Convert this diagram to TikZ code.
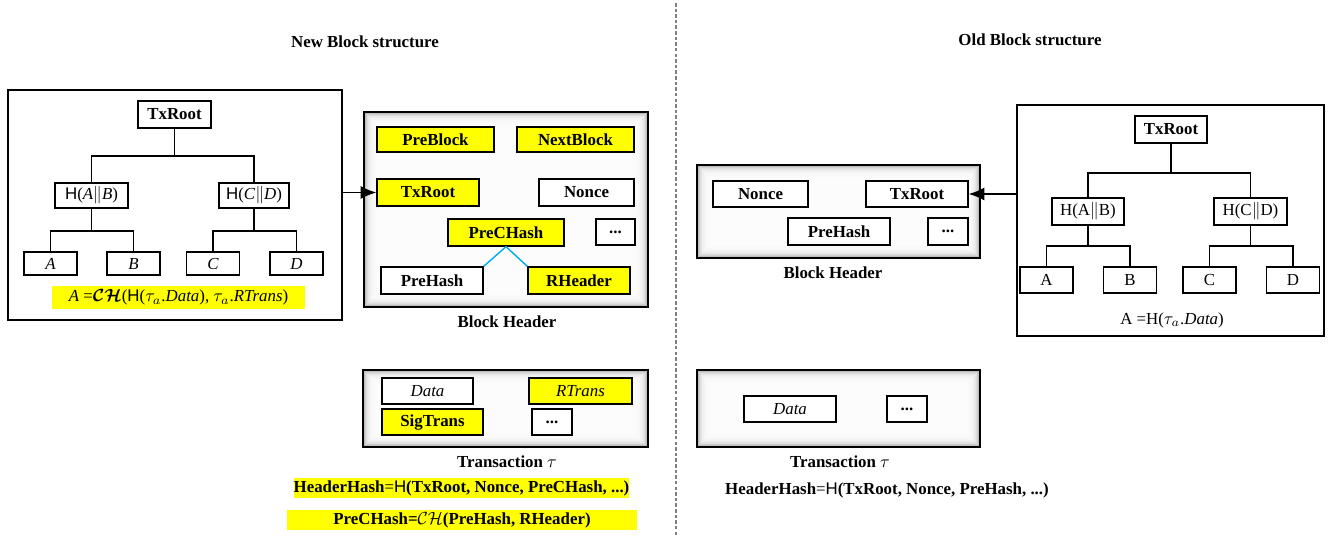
\documentclass[tikz,border=0pt]{standalone}
\usepackage{fontspec}
\setmainfont{Liberation Serif}
\setsansfont{Liberation Sans}
\usetikzlibrary{arrows.meta}

\definecolor{hlyellow}{RGB}{255,255,0}
\definecolor{linkblue}{RGB}{0,170,235}
\newcommand{\figfont}{\fontsize{9.6}{11.5}\selectfont}

\tikzset{
  sz/.style 2 args={minimum width=#1*0.02cm, minimum height=#2*0.02cm},
  fld/.style={draw, line width=0.75pt, fill=white, inner sep=0pt, font=\figfont\bfseries},
  leaf/.style={draw, line width=0.75pt, fill=white, inner sep=0pt, font=\figfont},
  hl/.style={fill=hlyellow},
  branch/.style={line width=1.1pt},
  treeframe/.style={draw, line width=0.9pt, fill=white, inner sep=0pt},
  shadowbox/.style={draw, line width=1.2pt, fill=gray!70, inner sep=0pt,
    path picture={
      \foreach \k in {1,...,12}
        \fill[white, opacity=0.28]
          ([xshift=\k*0.6pt, yshift=-\k*0.6pt]path picture bounding box.north west)
          rectangle
          ([xshift=-\k*0.6pt, yshift=\k*0.6pt]path picture bounding box.south east);
    }},
  caption/.style={inner sep=0pt, font=\figfont\bfseries},
  formula/.style={inner sep=0pt, font=\figfont},
  link/.style={line width=1pt, -{Latex[length=9pt, width=7.5pt]}},
  divider/.style={gray, line width=0.6pt, dash pattern=on 2pt off 1.2pt}
}

\begin{document}
\begin{tikzpicture}[x=0.02cm, y=-0.02cm]
    \useasboundingbox (0,0) rectangle (1338,535);

    % Titles
    \node[caption] (newtitle) at (365,42) {New Block structure};
    \node[caption] (oldtitle) at (1030,40) {Old Block structure};

    % Divider
    \draw[divider] (676,3) -- (676,535);

    % New block: Merkle tree
    \node[treeframe, sz={334}{230}] (ltree) at (175,205) {};
    \node[fld, sz={73}{27}] (ltroot) at (174.5,114.5) {TxRoot};
    \node[leaf, sz={73}{25}] (lab) at (91.5,195.5) {\textsf{H}(\textit{A}$\|$\textit{B})};
    \node[leaf, sz={70}{25}] (lcd) at (254,195.5) {\textsf{H}(\textit{C}$\|$\textit{D})};
    \node[leaf, sz={53}{23}] (la) at (50.5,263.5) {\textit{A}};
    \node[leaf, sz={53}{23}] (lb) at (133.5,263.5) {\textit{B}};
    \node[leaf, sz={53}{23}] (lc) at (213,263.5) {\textit{C}};
    \node[leaf, sz={53}{23}] (ld) at (296.5,263.5) {\textit{D}};
    \draw[branch] (ltroot.south) -- ++(0,27) coordinate (lsplit) -| (lab.north);
    \draw[branch] (lsplit) -| (lcd.north);
    \draw[branch] (lab.south) -- ++(0,22) coordinate (labsplit) -| (la.north);
    \draw[branch] (labsplit) -| (lb.north);
    \draw[branch] (lcd.south) -- ++(0,22) coordinate (lcdsplit) -| (lc.north);
    \draw[branch] (lcdsplit) -| (ld.north);
    \node[formula, hl, sz={253}{23}] (lleafdef) at (178.5,297.5)
        {\textit{A} ={\boldmath$\mathcal{C}\mathcal{H}$}(\textsf{H}($\tau_{a}$.\textit{Data}), $\tau_{a}$.\textit{RTrans})};

    % New block: header
    \node[shadowbox, sz={284}{195}] (lhead) at (506,209.5) {};
    \node[fld, hl, sz={117}{25}] (preblock) at (435.5,139.5) {PreBlock};
    \node[fld, hl, sz={117}{25}] (nextblock) at (575.5,139.5) {NextBlock};
    \node[fld, hl, sz={102}{27}] (lhtxroot) at (428,192.5) {TxRoot};
    \node[fld, sz={95}{27}] (lhnonce) at (586.5,192.5) {Nonce};
    \node[fld, hl, sz={116}{27}] (prechash) at (506,232.5) {PreCHash};
    \node[fld, sz={39}{26}] (lhdots) at (615.5,232) {...};
    \node[fld, sz={102}{27}] (lhprehash) at (432,280.5) {PreHash};
    \node[fld, hl, sz={102}{27}] (rheader) at (579,280.5) {RHeader};
    \draw[linkblue, line width=0.8pt] (lhprehash.north east) -- (prechash.south) -- (rheader.north west);
    \node[caption] (lheadcap) at (507,322) {Block Header};
    \draw[link] (ltree.east |- lhtxroot.west) -- (lhtxroot.west);

    % New block: transaction
    \node[shadowbox, sz={285}{77}] (ltrans) at (505.5,408.5) {};
    \node[leaf, sz={91}{26}] (ltdata) at (427.5,391) {\textit{Data}};
    \node[leaf, hl, sz={103}{26}] (rtrans) at (580.5,391) {\textit{RTrans}};
    \node[fld, hl, sz={101}{26}] (sigtrans) at (432.5,422) {SigTrans};
    \node[fld, sz={40}{26}] (ltdots) at (552,422) {...};
    \node[caption] (ltranscap) at (507,462) {Transaction $\tau$};

    % New block: hashes
    \node[formula, hl, sz={333}{20}] (lheaderhash) at (461.5,488)
        {\textbf{HeaderHash}=\textsf{H}\textbf{(TxRoot, Nonce, PreCHash, ...)}};
    \node[formula, hl, sz={350}{20}] (lprechash) at (462,520)
        {\textbf{PreCHash=}$\mathcal{C}\mathcal{H}$\textbf{(PreHash, RHeader)}};

    % Old block: header
    \node[shadowbox, sz={283}{93}] (rhead) at (838.5,211.5) {};
    \node[fld, sz={95}{26}] (rhnonce) at (760.5,194) {Nonce};
    \node[fld, sz={102}{26}] (rhtxroot) at (917,194) {TxRoot};
    \node[fld, sz={102}{27}] (rhprehash) at (839,231.5) {PreHash};
    \node[fld, sz={40}{27}] (rhdots) at (948,231.5) {...};
    \node[caption] (rheadcap) at (833,273) {Block Header};

    % Old block: Merkle tree
    \node[treeframe, sz={307}{231}] (rtree) at (1170.5,220.5) {};
    \node[fld, sz={72}{27}] (rtroot) at (1171,129.5) {TxRoot};
    \node[leaf, sz={72}{27}] (rab) at (1088,211.5) {H(A$\|$B)};
    \node[leaf, sz={73}{27}] (rcd) at (1250.5,211.5) {H(C$\|$D)};
    \node[leaf, sz={53}{26}] (ra) at (1046.5,280) {A};
    \node[leaf, sz={53}{26}] (rb) at (1130,280) {B};
    \node[leaf, sz={53}{26}] (rc) at (1209.5,280) {C};
    \node[leaf, sz={53}{26}] (rd) at (1293,280) {D};
    \draw[branch] (rtroot.south) -- ++(0,29) coordinate (rsplit) -| (rab.north);
    \draw[branch] (rsplit) -| (rcd.north);
    \draw[branch] (rab.south) -- ++(0,20) coordinate (rabsplit) -| (ra.north);
    \draw[branch] (rabsplit) -| (rb.north);
    \draw[branch] (rcd.south) -- ++(0,20) coordinate (rcdsplit) -| (rc.north);
    \draw[branch] (rcdsplit) -| (rd.north);
    \node[formula] (rleafdef) at (1172,320) {A =H($\tau_{a}$.\textit{Data})};
    \draw[link] (rtree.west |- rhtxroot.east) -- (rhtxroot.east);

    % Old block: transaction
    \node[shadowbox, sz={283}{77}] (rtrans) at (838.5,408.5) {};
    \node[leaf, sz={92}{26}] (rtdata) at (790,409) {\textit{Data}};
    \node[fld, sz={40}{26}] (rtdots) at (907,409) {...};
    \node[caption] (rtranscap) at (840,462) {Transaction $\tau$};
    \node[formula] (rheaderhash) at (887,490)
        {\textbf{HeaderHash}=\textsf{H}\textbf{(TxRoot, Nonce, PreHash, ...)}};
\end{tikzpicture}
\end{document}
